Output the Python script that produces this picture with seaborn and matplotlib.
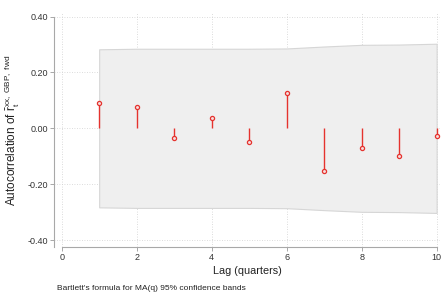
import matplotlib
matplotlib.use("Agg")
import matplotlib.pyplot as plt
import seaborn as sns
import pandas as pd

lags = [1, 2, 3, 4, 5, 6, 7, 8, 9, 10]
acf = [0.091, 0.077, -0.036, 0.038, -0.049, 0.127, -0.152, -0.071, -0.098, -0.026]
band_upper = [0.283, 0.285, 0.285, 0.285, 0.285, 0.286, 0.293, 0.299, 0.300, 0.303]
band_lower = [-0.283, -0.285, -0.285, -0.285, -0.285, -0.286, -0.293, -0.299, -0.300, -0.303]
yticks = [-0.40, -0.20, 0.00, 0.20, 0.40]
ytick_labels = ["-0.40", "-0.20", "0.00", "0.20", "0.40"]
xticks = [0, 2, 4, 6, 8, 10]
xlabel = "Lag (quarters)"
ylabel = r"Autocorrelation of $\bar{\mathrm{r}}_{\mathrm{t}}^{\mathrm{xx,\ GBP,\ fwd}}$"
note = "Bartlett's formula for MA(q) 95% confidence bands"

sns.set_theme(style="white")
plt.rcParams["font.family"] = ["Liberation Sans", "DejaVu Sans"]
plt.rcParams["mathtext.fontset"] = "custom"
plt.rcParams["mathtext.rm"] = "Liberation Sans"
plt.rcParams["mathtext.it"] = "Liberation Sans:italic"

df = pd.DataFrame({"lag": lags, "acf": acf, "up": band_upper, "lo": band_lower})

fig = plt.figure(figsize=(4.42, 2.96), dpi=100)
ax = fig.add_axes([54 / 442, 1 - 247 / 296, (440 - 54) / 442, (247 - 13) / 296])

red = "#e5332e"
ax.fill_between(df["lag"], df["lo"], df["up"], facecolor="#efefef",
                edgecolor="#d6d6d6", linewidth=0.8, zorder=1)
ax.vlines(df["lag"], 0, df["acf"], color=red, linewidth=1.0, zorder=3)
sns.scatterplot(data=df, x="lag", y="acf", ax=ax, marker="o", s=9,
                facecolor="#f6dede", edgecolor=red, linewidth=0.9, zorder=4, legend=False)

ax.set_xlim(-0.205, 10.09)
ax.set_ylim(-0.425, 0.413)
ax.set_yticks(yticks)
ax.set_yticklabels(ytick_labels)
ax.set_xticks(xticks)

ax.grid(True, linestyle=(0, (1, 2)), color="#d0d0d0", linewidth=0.6)
ax.set_axisbelow(True)

for s in ["top", "right"]:
    ax.spines[s].set_visible(False)
for s in ["left", "bottom"]:
    ax.spines[s].set_color("#a8a8a8")
    ax.spines[s].set_linewidth(0.8)
ax.spines["bottom"].set_bounds(0, 10)
ax.spines["left"].set_bounds(-0.425, 0.40)

ax.tick_params(axis="both", which="both", length=3, width=0.7, color="#a8a8a8",
               labelsize=6.5, labelcolor="#333333", pad=1.5, left=True, bottom=True)

ax.set_xlabel(xlabel, fontsize=7.8, color="#222222", labelpad=3)
ax.set_ylabel(ylabel, fontsize=8.5, color="#222222", labelpad=4)

fig.text(57 / 442, 1 - 289 / 296, note, fontsize=6.0, color="#222222",
         ha="left", va="center")

fig.savefig("out.png", dpi=100)
